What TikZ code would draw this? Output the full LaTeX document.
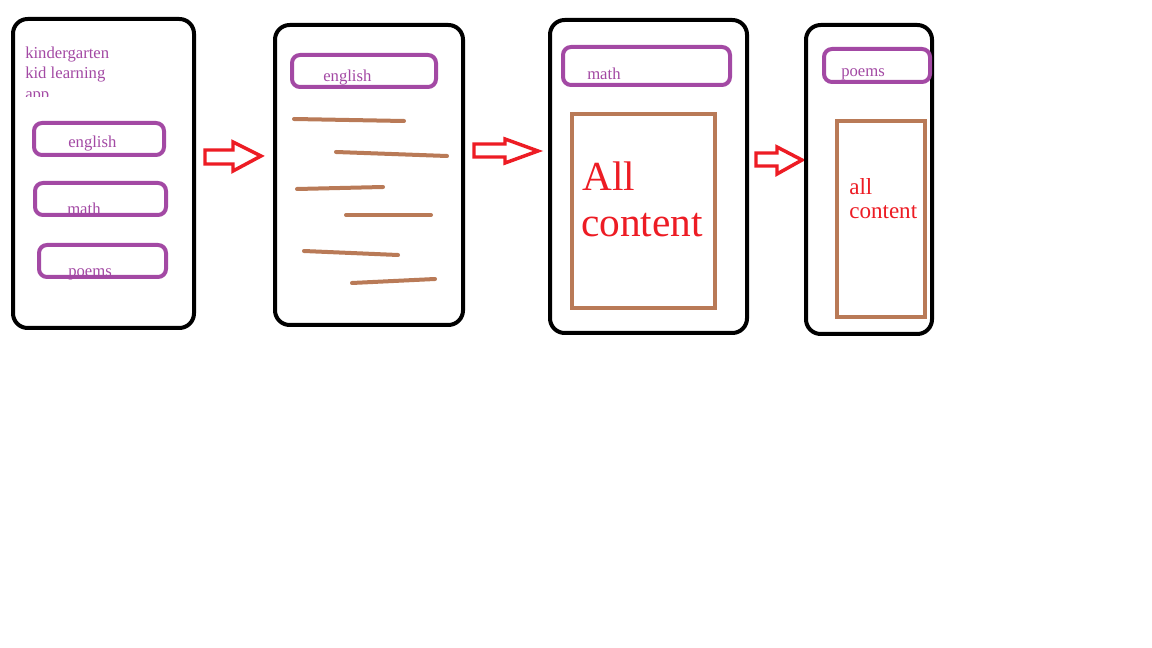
\documentclass[tikz,border=0pt]{standalone}
\usepackage{fontspec}
\setmainfont{Liberation Serif}
\usetikzlibrary{fit}
\definecolor{ppurple}{HTML}{A349A4}
\definecolor{pbrown}{HTML}{B97A57}
\definecolor{pred}{HTML}{ED1C24}
\tikzset{
  panel/.style={draw=black, line width=3pt, rounded corners=11pt, inner sep=0pt},
  tab/.style={draw=ppurple, line width=3pt, rounded corners=6pt, inner sep=0pt},
  content/.style={draw=pbrown, line width=3pt, inner sep=0pt},
  textline/.style={draw=pbrown, line width=3pt, line cap=round},
  blockarrow/.style={draw=pred, line width=2.6pt, line join=miter, fill=white},
  lbl/.style={text=ppurple, font=\fontsize{12.5}{15}\selectfont, inner sep=0pt, anchor=base west},
  bigtxt/.style={text=pred, font=\fontsize{31}{35}\selectfont, inner sep=0pt, anchor=base west},
  medtxt/.style={text=pred, font=\fontsize{17.3}{19}\selectfont, inner sep=0pt, anchor=base west}
}
\begin{document}
\begin{tikzpicture}[x=0.75pt,y=-0.75pt]
\path[use as bounding box, fill=white] (0,0) rectangle (1152,648);

% ---------- panel 1 ----------
\node[panel, fit={(13,19)(194,328)}] (p1) {};
\begin{scope}
  \clip (0,0) rectangle (200,97);
  \node[lbl] (t1) at (25,59) {kindergarten};
  \node[lbl] (t2) at (25,79) {kid learning};
  \node[lbl] (t3) at (25,100) {app};
\end{scope}
\node[lbl] (l1e) at (68,148) {english};
\node[lbl] (l1m) at (67,215) {math};
\node[lbl] (l1p) at (68,277) {poems};
\node[tab, fit={(34,123)(164,155)}] (b1e) {};
\node[tab, fit={(35,183)(166,215)}] (b1m) {};
\node[tab, fit={(39,245)(166,277)}] (b1p) {};

% ---------- arrow 1 ----------
\draw[blockarrow] (205,150) -- (233,150) -- (233,142) -- (261,156) -- (233,171) -- (233,164) -- (205,164) -- cycle;

% ---------- panel 2 ----------
\node[panel, fit={(275,25)(463,325)}] (p2) {};
\node[lbl] (l2e) at (323,82) {english};
\node[tab, fit={(292,55)(436,87)}] (b2e) {};
\coordinate (a1) at (294,119); \coordinate (a2) at (404,121);
\coordinate (b1) at (336,152); \coordinate (b2) at (447,156);
\coordinate (c1) at (297,189); \coordinate (c2) at (383,187);
\coordinate (d1) at (346,215); \coordinate (d2) at (431,215);
\coordinate (e1) at (304,251); \coordinate (e2) at (398,255);
\coordinate (f1) at (352,283); \coordinate (f2) at (435,279);
\draw[textline] (a1) -- (a2);
\draw[textline] (b1) -- (b2);
\draw[textline] (c1) -- (c2);
\draw[textline] (d1) -- (d2);
\draw[textline] (e1) -- (e2);
\draw[textline] (f1) -- (f2);

% ---------- arrow 2 ----------
\draw[blockarrow] (474,144) -- (505,144) -- (505,139) -- (538,151) -- (505,163) -- (505,157) -- (474,157) -- cycle;

% ---------- panel 3 ----------
\node[panel, fit={(550,20)(747,333)}] (p3) {};
\node[lbl] (l3m) at (587,80) {math};
\node[tab, fit={(563,47)(730,85)}] (b3m) {};
\node[content, fit={(572,114)(715,308)}] (c3) {};
\node[bigtxt] (all3) at (582,191) {All};
\node[bigtxt] (con3) at (581,237) {content};

% ---------- arrow 3 ----------
\draw[blockarrow] (756,153) -- (777,153) -- (777,147) -- (802,160) -- (777,174) -- (777,166) -- (756,166) -- cycle;

% ---------- panel 4 ----------
\node[panel, fit={(806,25)(932,334)}] (p4) {};
\node[lbl] (l4p) at (841,77) {poems};
\node[tab, fit={(824,49)(930,82)}] (b4p) {};
\node[content, fit={(837,121)(925,317)}] (c4) {};
\node[medtxt] (all4) at (849,195) {all};
\node[medtxt] (con4) at (849,219) {content};
\end{tikzpicture}
\end{document}
